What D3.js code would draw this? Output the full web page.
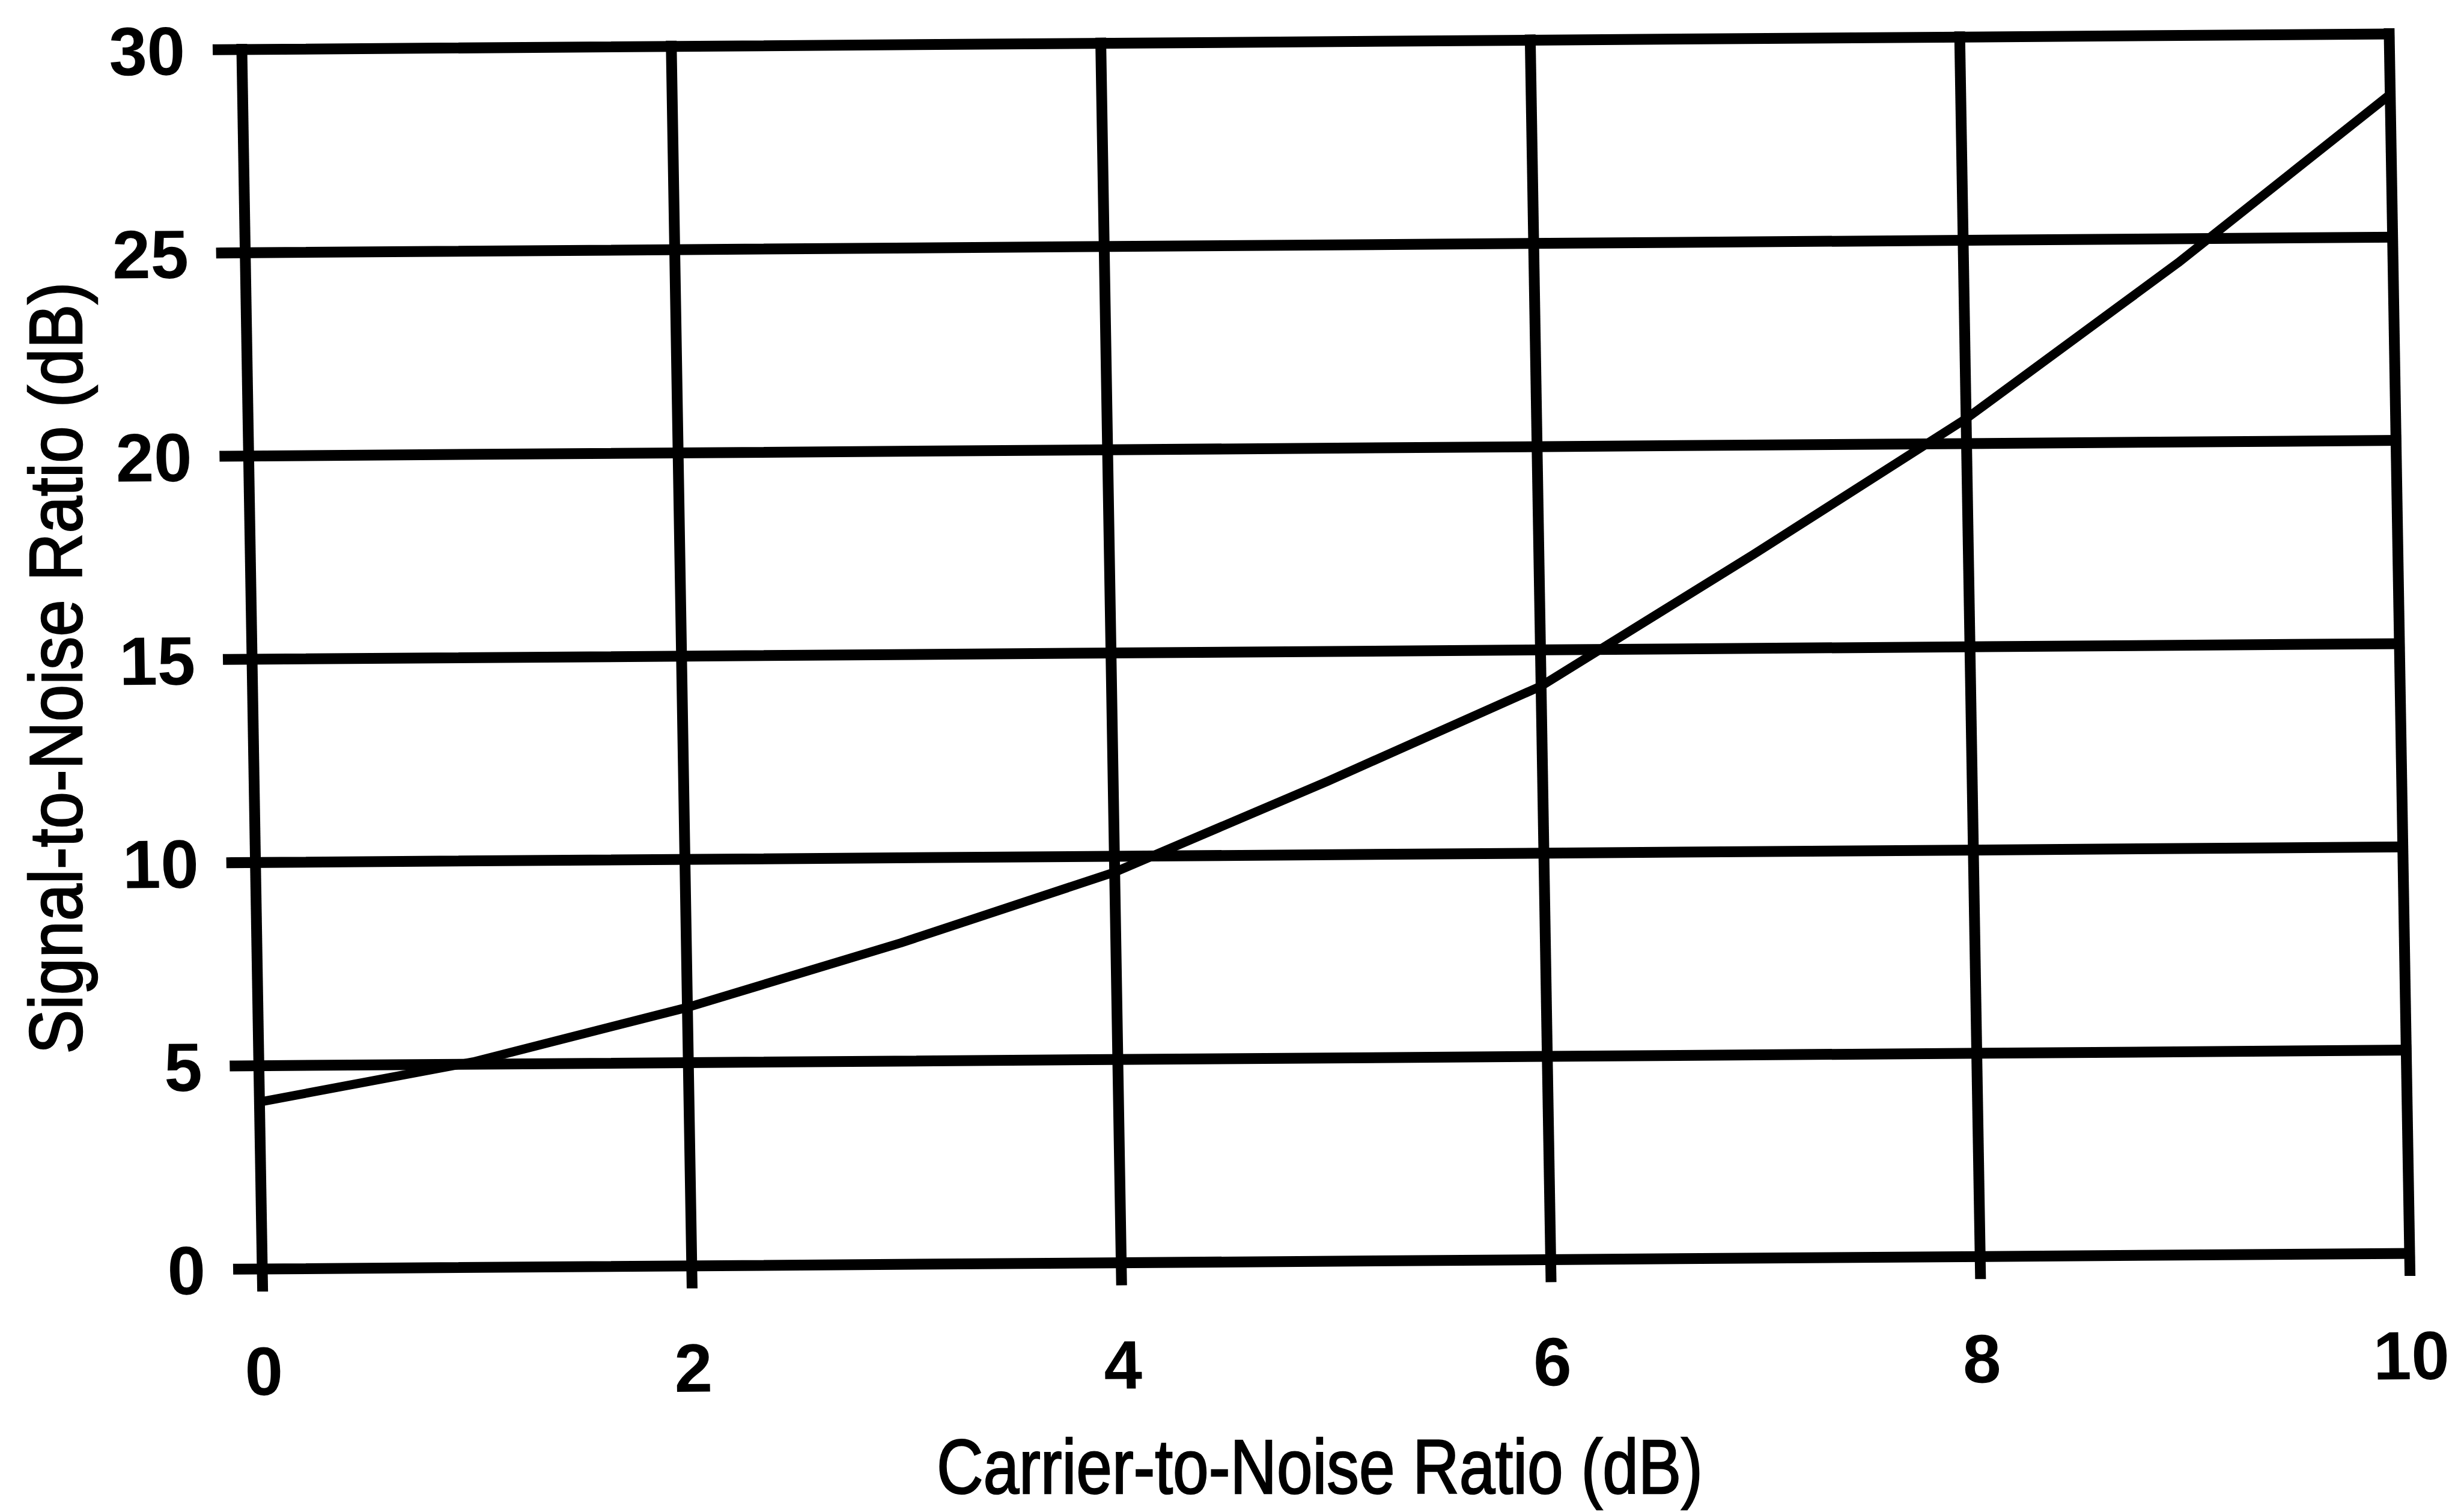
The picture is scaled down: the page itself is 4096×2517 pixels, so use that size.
<!DOCTYPE html>
<html lang="en">

<head>
  <meta charset="UTF-8" />
  <title>Signal-to-Noise vs Carrier-to-Noise</title>
  <script src="https://d3js.org/d3.v7.min.js"></script>
  <style>
    html, body { margin: 0; padding: 0; background: #fff; }
    svg { display: block; }
    .grid line { stroke: #000; stroke-width: 18; stroke-linecap: square; }
    .grid text { font-family: "Liberation Sans", Arial, sans-serif; font-weight: bold; fill: #000; }
    .title { font-family: "Liberation Sans", Arial, sans-serif; fill: #000; stroke: #000; stroke-width: 2.5; }
  </style>
</head>

<body>
  <svg id="chart" width="4096" height="2517"></svg>

  <script>
    // data
    const cnrValues = [0, 1, 2, 3, 4, 5, 6, 7, 8, 9, 10];
    const snrValues = [4.1, 5.05, 6.35, 7.9, 9.6, 11.8, 14.1, 17.3, 20.6, 24.4, 28.5];
    const xTicks = [0, 2, 4, 6, 8, 10];
    const yTicks = [0, 5, 10, 15, 20, 25, 30];
    const xTitle = "Carrier-to-Noise Ratio (dB)";
    const yTitle = "Signal-to-Noise Ratio (dB)";

    const svg = d3.select("#chart"),
      width = +svg.attr("width"),
      height = +svg.attr("height");

    svg.append("rect").attr("width", width).attr("height", height).attr("fill", "#fff");

    // plot box (before the slight skew of the scan is applied)
    const plotLeft = 419, plotRight = 3993, plotTop = 69, plotBottom = 2099;
    const W = plotRight - plotLeft, H = plotBottom - plotTop;
    const tickOut = 39;     // grid lines poke out past the axes
    const tickDown = 29;

    const x = d3.scaleLinear().domain([0, 10]).range([plotLeft, plotRight]);
    const y = d3.scaleLinear().domain([0, 30]).range([plotBottom, plotTop]);

    // the original is a scan, slightly sheared
    const px = (plotLeft + plotRight) / 2, py = (plotTop + plotBottom) / 2;
    const g = svg.append("g")
      .attr("transform", `translate(${px},${py}) matrix(1,-0.00727,0.01675,1,0,0) translate(${-px},${-py})`);

    // horizontal grid + y tick labels
    const yAxis = g.append("g")
      .attr("class", "grid")
      .attr("transform", `translate(${plotLeft - tickOut},0)`)
      .call(d3.axisLeft(y).tickValues(yTicks).tickSizeInner(-(W + tickOut)).tickSizeOuter(0).tickPadding(55));
    yAxis.select(".domain").remove();
    yAxis.selectAll("text").attr("font-size", 114).attr("dy", "0.36em");

    // vertical grid + x tick labels
    const xAxis = g.append("g")
      .attr("class", "grid")
      .attr("transform", `translate(0,${plotTop})`)
      .call(d3.axisBottom(x).tickValues(xTicks).tickSizeInner(H + tickDown).tickSizeOuter(0));
    xAxis.select(".domain").remove();
    xAxis.selectAll("text")
      .attr("font-size", 114)
      .attr("y", H + 210)
      .attr("dy", 0);

    // the curve
    const line = d3.line()
      .x((d, i) => x(cnrValues[i]))
      .y(d => y(d));

    g.append("path")
      .datum(snrValues)
      .attr("fill", "none")
      .attr("stroke", "#000")
      .attr("stroke-width", 15)
      .attr("stroke-linejoin", "round")
      .attr("d", line);

    // axis titles
    svg.append("text")
      .attr("class", "title")
      .attr("x", 1559)
      .attr("y", 2486)
      .attr("font-size", 128)
      .attr("textLength", 1275)
      .attr("lengthAdjust", "spacingAndGlyphs")
      .text(xTitle);

    svg.append("text")
      .attr("class", "title")
      .attr("transform", "translate(136,1112) rotate(-90)")
      .attr("text-anchor", "middle")
      .attr("font-size", 124)
      .attr("textLength", 1285)
      .attr("lengthAdjust", "spacingAndGlyphs")
      .text(yTitle);
  </script>
</body>

</html>
